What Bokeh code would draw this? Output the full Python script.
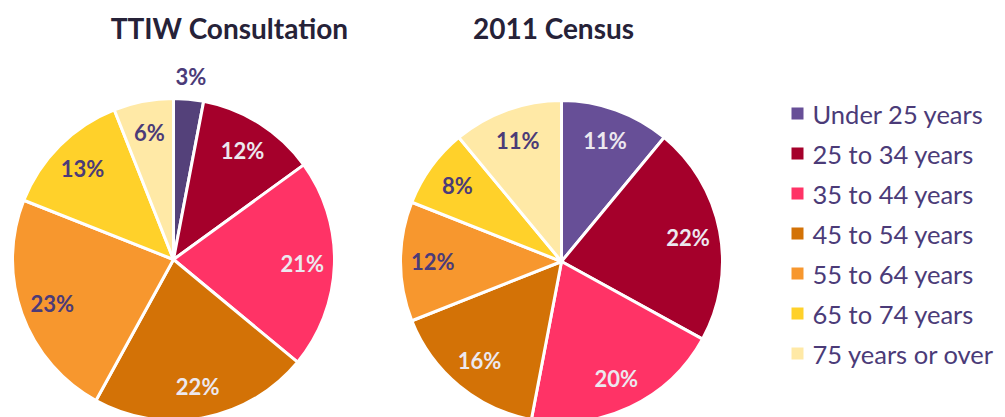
import numpy as np
from bokeh.plotting import figure
from bokeh.models import Range1d, ColumnDataSource
from bokeh.core.properties import value
from bokeh.embed import file_html
from bokeh.resources import INLINE

# ---- data ----
categories = ["Under 25 years", "25 to 34 years", "35 to 44 years", "45 to 54 years",
              "55 to 64 years", "65 to 74 years", "75 years or over"]
ttiw = [3, 12, 21, 22, 23, 13, 6]
census = [11, 22, 20, 16, 12, 8, 11]
titles = ["TTIW Consultation", "2011 Census"]

# ---- styles ----
colors = ["#674F97", "#A5002B", "#FF3366", "#D37206", "#F7972E", "#FFD12A", "#FFE9A6"]
left_colors = ["#54417A"] + colors[1:]
light_label = [True, True, True, True, False, False, False]
DARK = "#4B3B78"
LIGHT = "#ECE8EF"

W, H = 1005, 417
p = figure(width=W, height=H, x_range=Range1d(0, W), y_range=Range1d(0, H),
           output_backend="svg", toolbar_location=None, min_border=0)
p.axis.visible = False
p.grid.visible = False
p.outline_line_color = None
p.background_fill_color = "white"
p.border_fill_color = "white"

def Y(page_y):
    return H - page_y

def X(page_x):
    return page_x

R = 161

def draw_pie(vals, cx, cy, cols, title, tx, outside_first=False):
    v = np.array(vals, dtype=float)
    frac = v / v.sum()
    cum = np.concatenate([[0], np.cumsum(frac)])
    start = np.pi / 2 - 2 * np.pi * cum[:-1]
    end = np.pi / 2 - 2 * np.pi * cum[1:]
    mid = (start + end) / 2
    src = ColumnDataSource(dict(start=start, end=end, color=cols))
    p.wedge(x=cx, y=cy, radius=R, start_angle="start", end_angle="end",
            direction="clock", fill_color="color", line_color="white",
            line_width=3, source=src)
    rr = np.full(len(v), 0.8 * R)
    if outside_first:
        rr[0] = 1.14 * R
    lx = cx + rr * np.cos(mid)
    ly = cy + rr * np.sin(mid)
    tc = [LIGHT if (light_label[i] and not (outside_first and i == 0)) else DARK
          for i in range(len(v))]
    lsrc = ColumnDataSource(dict(x=lx, y=ly, t=[f"{int(a)}%" for a in vals], c=tc))
    p.text(x="x", y="y", text="t", text_color="c", source=lsrc,
           text_font=value("Lato"), text_font_size="22px", text_font_style="bold",
           text_align="center", text_baseline="middle")
    p.text(x=[tx], y=[Y(27)], text=[title], text_color="#262238",
           text_font=value("Lato"), text_font_size="28px", text_font_style="bold",
           text_align="center", text_baseline="middle")

draw_pie(ttiw, X(173), Y(259), left_colors, titles[0], X(229), outside_first=True)
draw_pie(census, X(561), Y(261), colors, titles[1], X(553))

# legend
ly = [Y(113 + 40 * i) for i in range(len(categories))]
p.scatter(x=[X(797)] * len(categories), y=ly, marker="square", size=12,
          fill_color=colors, line_color=None)
p.text(x=[X(812)] * len(categories), y=ly, text=categories, text_color=DARK,
       text_font=value("Lato"), text_font_size="25.5px",
       text_align="left", text_baseline="middle")

open("out.html", "w").write(file_html(p, INLINE))
